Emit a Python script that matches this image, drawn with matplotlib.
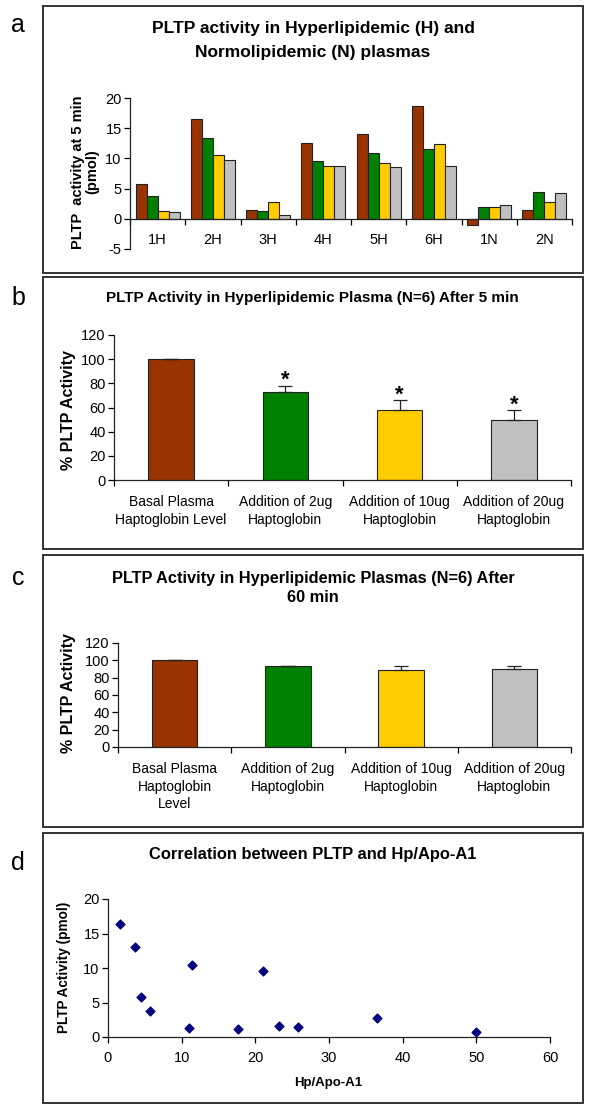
import numpy as np
import matplotlib
matplotlib.use('Agg')
import matplotlib.pyplot as plt
from matplotlib.patches import Rectangle

plt.rcParams['font.family'] = ['Liberation Sans', 'DejaVu Sans']
plt.rcParams['axes.unicode_minus'] = False

# panel a: PLTP activity at 5 min per plasma (pmol)
samples = ['1H', '2H', '3H', '4H', '5H', '6H', '1N', '2N']
basal = [5.7, 16.5, 1.5, 12.6, 14.0, 18.7, -1.0, 1.4]
hp_2ug = [3.8, 13.4, 1.3, 9.6, 10.9, 11.5, 1.9, 4.4]
hp_10ug = [1.3, 10.6, 2.7, 8.8, 9.2, 12.4, 1.9, 2.8]
hp_20ug = [1.2, 9.8, 0.6, 8.7, 8.5, 8.7, 2.3, 4.3]

# panels b, c: % PLTP activity
treatments = ['Basal Plasma\nHaptoglobin Level', 'Addition of 2ug\nHaptoglobin',
              'Addition of 10ug\nHaptoglobin', 'Addition of 20ug\nHaptoglobin']
treatments_c = ['Basal Plasma\nHaptoglobin\nLevel', 'Addition of 2ug\nHaptoglobin',
                'Addition of 10ug\nHaptoglobin', 'Addition of 20ug\nHaptoglobin']
pct_5min = [100, 73, 58, 50]
err_5min = [0, 5, 8, 8]
sig_5min = [False, True, True, True]
pct_60min = [100, 93, 89, 90]
err_60min = [0, 1, 4, 3]

# panel d: correlation
hp_apo = [1.6, 3.6, 4.5, 5.7, 11.0, 11.4, 17.6, 21.1, 23.2, 25.8, 36.5, 49.9]
pltp = [16.4, 13.1, 5.8, 3.8, 1.3, 10.5, 1.1, 9.6, 1.6, 1.5, 2.7, 0.7]

colors = ['#993300', '#008000', '#ffcc00', '#c0c0c0']

W, H = 600, 1113
fig = plt.figure(figsize=(W / 100, H / 100), dpi=100)


def px_axes(l, t, r, b):
    return fig.add_axes([l / W, 1 - b / H, (r - l) / W, (b - t) / H])


def px_text(x, y, s, **kw):
    fig.text(x / W, 1 - y / H, s, **kw)


def px_box(l, t, r, b):
    fig.add_artist(Rectangle((l / W, 1 - b / H), (r - l) / W, (b - t) / H,
                             transform=fig.transFigure, fill=False, lw=1.4, ec='#333333'))


def style(ax):
    ax.spines['top'].set_visible(False)
    ax.spines['right'].set_visible(False)
    for s in ['left', 'bottom']:
        ax.spines[s].set_color('#222222')
        ax.spines[s].set_linewidth(0.9)
    ax.tick_params(axis='y', length=4, width=0.9, labelsize=10.5, pad=2)


# panel frames and letters
px_box(43, 6, 583, 273)
px_box(43, 277, 583, 549)
px_box(43, 555, 583, 827)
px_box(43, 833, 583, 1103)
for letter, y in [('a', 25), ('b', 298), ('c', 578), ('d', 863)]:
    px_text(18, y, letter, fontsize=18, ha='center', va='center')

# ---- a ----
ax = px_axes(130, 98, 572, 249)
x = np.arange(len(samples))
w = 0.2
for i, vals in enumerate([basal, hp_2ug, hp_10ug, hp_20ug]):
    ax.bar(x + (i - 1.5) * w, vals, w, color=colors[i], edgecolor='#222222', linewidth=0.8)
ax.set_xlim(-0.5, len(samples) - 0.5)
ax.set_ylim(-5, 20)
ax.set_yticks([-5, 0, 5, 10, 15, 20])
ax.spines['bottom'].set_position(('data', 0))
ax.set_xticks(x)
ax.set_xticklabels(samples, fontsize=10.5)
ax.set_xticks(np.arange(-0.5, len(samples)), minor=True)
ax.tick_params(axis='x', which='major', length=0, pad=10)
ax.tick_params(axis='x', which='minor', length=4, width=0.9)
style(ax)
px_text(313, 41, 'PLTP activity in Hyperlipidemic (H) and\nNormolipidemic (N) plasmas',
        fontsize=12.5, fontweight='bold', ha='center', va='center', linespacing=1.75)
px_text(85, 172, 'PLTP  activity at 5 min\n(pmol)', fontsize=10.5, fontweight='bold',
        rotation=90, ha='center', va='center', linespacing=1.05)


# ---- b and c ----
def pct_panel(l, t, r, b, vals, errs, labels, ls):
    ax = px_axes(l, t, r, b)
    xs = np.arange(len(vals))
    ax.bar(xs, vals, 0.4, color=colors, edgecolor='#222222', linewidth=0.8,
           yerr=[np.zeros(len(errs)), errs], capsize=5,
           error_kw=dict(elinewidth=0.9, capthick=0.9, ecolor='#222222'))
    ax.set_xlim(-0.5, len(vals) - 0.5)
    ax.set_ylim(0, 120)
    ax.set_yticks(range(0, 121, 20))
    ax.set_xticks(xs)
    ax.set_xticklabels(labels, fontsize=10, linespacing=ls)
    ax.set_xticks(np.arange(-0.5, len(vals)), minor=True)
    ax.tick_params(axis='x', which='major', length=0, pad=11)
    ax.tick_params(axis='x', which='minor', length=4, width=0.9)
    style(ax)
    return ax


ax = pct_panel(114, 335, 571, 480, pct_5min, err_5min, treatments, 1.3)
for xi, (v, e, s) in enumerate(zip(pct_5min, err_5min, sig_5min)):
    if s:
        ax.text(xi, v + e - 4.5, '*', ha='center', va='bottom', fontsize=16, fontweight='bold')
px_text(312, 298, 'PLTP Activity in Hyperlipidemic Plasma (N=6) After 5 min',
        fontsize=11, fontweight='bold', ha='center', va='center')
px_text(69, 410, '% PLTP Activity', fontsize=11.5, fontweight='bold', rotation=90,
        ha='center', va='center')

ax = pct_panel(118, 643, 571, 747, pct_60min, err_60min, treatments_c, 1.32)
px_text(313, 588, 'PLTP Activity in Hyperlipidemic Plasmas (N=6) After\n60 min',
        fontsize=11.8, fontweight='bold', ha='center', va='center', linespacing=1.35)
px_text(69, 693, '% PLTP Activity', fontsize=11.5, fontweight='bold', rotation=90,
        ha='center', va='center')

# ---- d ----
ax = px_axes(108, 899, 550, 1037)
ax.scatter(hp_apo, pltp, marker='D', s=20, color='#000080', zorder=3)
ax.set_xlim(0, 60)
ax.set_ylim(0, 20)
ax.set_xticks(range(0, 61, 10))
ax.set_yticks(range(0, 21, 5))
ax.tick_params(axis='x', length=4, width=0.9, labelsize=10.5, pad=6)
style(ax)
px_text(313, 855, 'Correlation between PLTP and Hp/Apo-A1', fontsize=11.9, fontweight='bold',
        ha='center', va='center')
px_text(64, 967, 'PLTP Activity (pmol)', fontsize=9.8, fontweight='bold', rotation=90,
        ha='center', va='center')
px_text(328, 1083, 'Hp/Apo-A1', fontsize=9.5, fontweight='bold', ha='center', va='center')

fig.savefig('out.png', dpi=100, facecolor='white')
